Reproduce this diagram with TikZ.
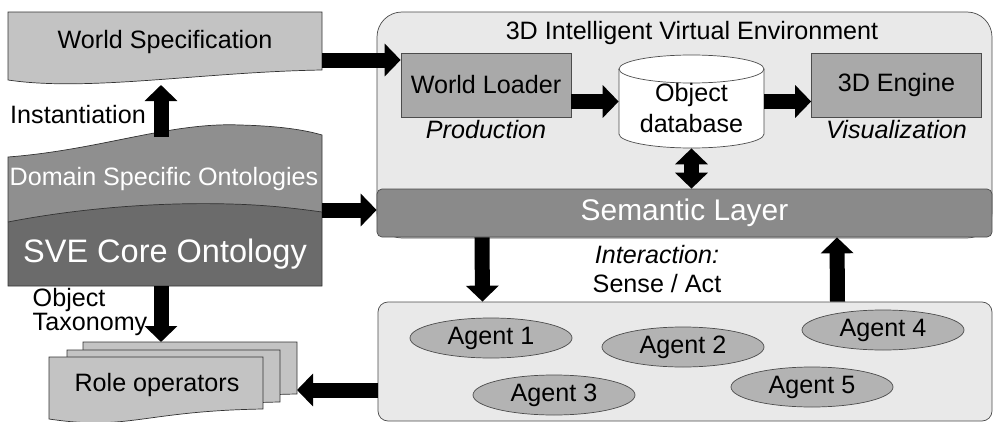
\documentclass[tikz,border=0pt]{standalone}
\usepackage{fontspec}
\setmainfont{Liberation Sans}
\usetikzlibrary{shapes.geometric, arrows.meta}
\definecolor{envgray}{HTML}{E9E9E9}
\definecolor{docgray}{HTML}{C3C3C3}
\definecolor{boxgray}{HTML}{A9A9A9}
\definecolor{laygray}{HTML}{8A8A8A}
\definecolor{domgray}{HTML}{8F8F8F}
\definecolor{svegray}{HTML}{6B6B6B}
\definecolor{agentgray}{HTML}{B3B3B3}
\tikzstyle{arrow} = [line width=3mm, -{Triangle[width=6.4mm,length=3.2mm]}]
\tikzstyle{dblarrow} = [line width=3mm, {Triangle[width=6.4mm,length=3.2mm]}-{Triangle[width=6.4mm,length=3.2mm]}]
\tikzstyle{docbox} = [draw=black!80, fill=docgray]
\tikzstyle{envbox} = [rectangle, rounded corners=5mm, draw=black!70, fill=envgray]
\tikzstyle{box} = [rectangle, draw=black!70, fill=boxgray, minimum width=34mm, minimum height=12.8mm, text centered]
\tikzstyle{layer} = [rectangle, rounded corners=1mm, draw=black!70, fill=laygray, text=white, minimum width=123mm, minimum height=9.6mm, font=\fontsize{17}{20}\selectfont]
\tikzstyle{agent} = [ellipse, draw=black!70, fill=agentgray, minimum width=32.4mm, minimum height=8mm, inner sep=1pt]
% paper with a wavy bottom edge: x1, x2, top, height
\newcommand{\docshape}[4]{(#1,#3) -- (#2,#3) -- (#2,{#3+#4-10}) .. controls ({#2-120},{#3+#4-8}) and ({#1+80},{#3+#4+12}) .. (#1,{#3+#4}) -- cycle}
\begin{document}
\fontsize{14.3}{17.2}\selectfont
\begin{tikzpicture}[x=0.2mm, y=-0.2mm]
\useasboundingbox (0,0) rectangle (995,422);

% ontologies
\draw [docbox] \docshape{8}{322}{12}{68};
\fill [domgray] (8,157) .. controls (100,150) and (170,122) .. (240,125) .. controls (280,126) and (305,130) .. (322,135) -- (322,212) -- (8,222) -- cycle;
\fill [svegray] (8,222) .. controls (80,208) and (160,202) .. (230,204) .. controls (270,205) and (300,209) .. (322,212) -- (322,286) -- (8,286) -- cycle;
\draw [black!80] (8,222) .. controls (80,208) and (160,202) .. (230,204) .. controls (270,205) and (300,209) .. (322,212);
\draw [black!80] (8,157) .. controls (100,150) and (170,122) .. (240,125) .. controls (280,126) and (305,130) .. (322,135) -- (322,286) -- (8,286) -- cycle;
\draw [docbox] \docshape{83}{297}{342}{62};
\draw [docbox] \docshape{67}{280}{350}{62};
\draw [docbox] \docshape{49}{263}{357}{62};

\coordinate (specR) at (322,60);
\coordinate (specB) at (161,85);
\coordinate (domT) at (161,137);
\coordinate (sveR) at (322,210);
\coordinate (sveB) at (161,286);
\coordinate (roleT) at (161,342);
\coordinate (roleR) at (297,390);

\node (spec) at (165,42) {World Specification};
\node (inst) at (78,115) {Instantiation};
\node (dom) [text=white] at (164,179) {Domain Specific Ontologies};
\node (sve) [text=white, font=\fontsize{18.5}{22}\selectfont] at (165,254) {SVE Core Ontology};
\node (taxo) [anchor=west, align=left, font=\fontsize{14.3}{12.8}\selectfont] at (24,312) {Object\\Taxonomy};
\node (role) at (157,385) {Role operators};

% virtual environment
\node (env) [envbox, minimum width=123mm, minimum height=45.2mm] at (684.5,125) {};
\node (title) at (692,33) {3D Intelligent Virtual Environment};
\node (loader) [box] at (486,85) {World Loader};
\node (prod) [below of=loader, node distance=9mm, font=\itshape] {Production};
\node (engine) [box] at (896.5,85) {3D Engine};
\node (vis) [below of=engine, node distance=9mm, font=\itshape] {Visualization};
\draw [draw=black!70, fill=white] (619,69) -- (619,134) arc [start angle=180, end angle=360, x radius=14.5mm, y radius=2.8mm] -- (764,69) arc [start angle=0, end angle=180, x radius=14.5mm, y radius=2.8mm] -- cycle;
\draw [black!70] (619,69) arc [start angle=180, end angle=360, x radius=14.5mm, y radius=2.8mm];
\node (db) [minimum width=29mm, minimum height=18.6mm] at (691.5,101.5) {};
\node (dbtxt) [align=center] at (691.5,108) {Object\\database};
\node (sem) [layer] at (684.5,213) {Semantic Layer};
\node (inter) [align=center, font=\fontsize{14.3}{16}\selectfont] at (657,269) {\itshape Interaction:\\Sense / Act};

% agents
\node (agents) [envbox, rounded corners=2mm, minimum width=122.8mm, minimum height=23.8mm] at (685,361.5) {};
\node (ag1) [agent] at (491,338) {Agent 1};
\node (ag2) [agent] at (683,347) {Agent 2};
\node (ag3) [agent] at (554,395) {Agent 3};
\node (ag4) [agent] at (883,330) {Agent 4};
\node (ag5) [agent] at (812,387) {Agent 5};

\draw [arrow] (specR) -- (specR -| loader.west);
\draw [arrow] (domT) -- (specB);
\draw [arrow] (sveR) -- (sveR -| sem.west);
\draw [arrow] (sveB) -- (roleT);
\draw [arrow] (agents.west |- roleR) -- (roleR);
\draw [arrow] (loader.east |- db.west) -- (db.west);
\draw [arrow] (db.east) -- (db.east -| engine.west);
\draw [dblarrow] (db.south) -- (db.south |- sem.north);
\draw [arrow] ([xshift=-40.5mm]sem.south) -- ([xshift=-40.5mm]agents.north);
\draw [arrow] ([xshift=30.5mm]agents.north) -- ([xshift=30.5mm]sem.south);

\end{tikzpicture}
\end{document}
